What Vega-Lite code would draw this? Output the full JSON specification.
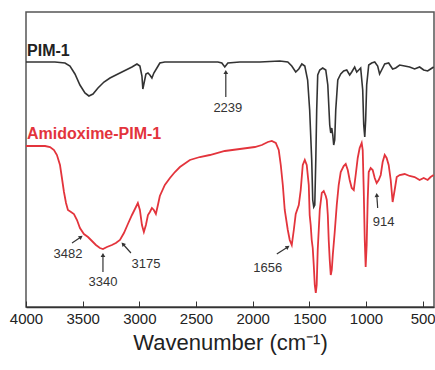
{
  "$schema": "https://vega.github.io/schema/vega-lite/v6.json",
  "width": 408,
  "height": 295,
  "autosize": {"type": "none"},
  "padding": {"left": 26, "top": 12, "right": 1, "bottom": 63},
  "background": "white",
  "config": {
    "view": {"stroke": "#555555", "strokeWidth": 1.5},
    "font": "Liberation Sans"
  },
  "datasets": {
    "pim": [
      {"w":4000,"v":245},{"w":3877,"v":245},{"w":3745,"v":245},{"w":3656,"v":244},{"w":3612,"v":241},{"w":3568,"v":233},{"w":3524,"v":222},{"w":3480,"v":214},{"w":3445,"v":211},{"w":3409,"v":213},{"w":3365,"v":219},{"w":3312,"v":225},{"w":3259,"v":229},{"w":3189,"v":233},{"w":3118,"v":237},{"w":3065,"v":240},{"w":3021,"v":243},{"w":2995,"v":241},{"w":2977,"v":231},{"w":2969,"v":218},{"w":2960,"v":223},{"w":2942,"v":233},{"w":2924,"v":234},{"w":2907,"v":232},{"w":2889,"v":229},{"w":2872,"v":234},{"w":2845,"v":239},{"w":2819,"v":244},{"w":2775,"v":245},{"w":2642,"v":245},{"w":2466,"v":245},{"w":2307,"v":245},{"w":2272,"v":244},{"w":2246,"v":240},{"w":2219,"v":244},{"w":2113,"v":245},{"w":1937,"v":245},{"w":1760,"v":246},{"w":1690,"v":245},{"w":1655,"v":241},{"w":1620,"v":235},{"w":1593,"v":238},{"w":1566,"v":243},{"w":1540,"v":241},{"w":1515,"v":227},{"w":1497,"v":197},{"w":1479,"v":147},{"w":1470,"v":107},{"w":1461,"v":100},{"w":1452,"v":102},{"w":1443,"v":147},{"w":1435,"v":197},{"w":1426,"v":232},{"w":1408,"v":237},{"w":1382,"v":239},{"w":1355,"v":237},{"w":1337,"v":222},{"w":1320,"v":182},{"w":1311,"v":174},{"w":1302,"v":179},{"w":1293,"v":172},{"w":1285,"v":162},{"w":1276,"v":167},{"w":1267,"v":197},{"w":1249,"v":227},{"w":1223,"v":233},{"w":1197,"v":236},{"w":1170,"v":237},{"w":1144,"v":232},{"w":1126,"v":235},{"w":1100,"v":240},{"w":1082,"v":235},{"w":1064,"v":237},{"w":1047,"v":239},{"w":1029,"v":217},{"w":1020,"v":182},{"w":1011,"v":170},{"w":1003,"v":187},{"w":994,"v":222},{"w":976,"v":242},{"w":950,"v":244},{"w":923,"v":245},{"w":897,"v":241},{"w":880,"v":233},{"w":862,"v":237},{"w":835,"v":243},{"w":800,"v":244},{"w":765,"v":238},{"w":738,"v":239},{"w":703,"v":242},{"w":659,"v":241},{"w":615,"v":240},{"w":571,"v":238},{"w":527,"v":240},{"w":491,"v":237},{"w":456,"v":236},{"w":430,"v":238},{"w":403,"v":240}
    ],
    "amid": [
      {"w":4000,"v":161},{"w":3921,"v":161},{"w":3832,"v":161},{"w":3788,"v":160},{"w":3753,"v":157},{"w":3727,"v":152},{"w":3700,"v":142},{"w":3683,"v":129},{"w":3665,"v":115},{"w":3647,"v":104},{"w":3630,"v":97},{"w":3603,"v":95},{"w":3577,"v":93},{"w":3550,"v":87},{"w":3524,"v":79},{"w":3489,"v":73},{"w":3453,"v":70},{"w":3418,"v":66},{"w":3383,"v":62},{"w":3348,"v":59},{"w":3321,"v":58},{"w":3286,"v":60},{"w":3242,"v":62},{"w":3207,"v":64},{"w":3171,"v":67},{"w":3136,"v":74},{"w":3101,"v":83},{"w":3065,"v":92},{"w":3030,"v":100},{"w":3013,"v":104},{"w":2995,"v":97},{"w":2977,"v":82},{"w":2960,"v":75},{"w":2942,"v":82},{"w":2924,"v":92},{"w":2907,"v":95},{"w":2889,"v":99},{"w":2872,"v":97},{"w":2854,"v":93},{"w":2836,"v":102},{"w":2819,"v":111},{"w":2775,"v":122},{"w":2730,"v":129},{"w":2686,"v":135},{"w":2642,"v":140},{"w":2554,"v":147},{"w":2466,"v":150},{"w":2378,"v":152},{"w":2246,"v":156},{"w":2113,"v":158},{"w":1981,"v":160},{"w":1919,"v":162},{"w":1866,"v":165},{"w":1831,"v":166},{"w":1796,"v":164},{"w":1770,"v":157},{"w":1752,"v":142},{"w":1734,"v":122},{"w":1717,"v":97},{"w":1690,"v":77},{"w":1673,"v":67},{"w":1655,"v":62},{"w":1637,"v":77},{"w":1620,"v":93},{"w":1593,"v":102},{"w":1576,"v":117},{"w":1558,"v":142},{"w":1540,"v":147},{"w":1523,"v":142},{"w":1505,"v":122},{"w":1497,"v":92},{"w":1488,"v":82},{"w":1479,"v":67},{"w":1470,"v":59},{"w":1461,"v":42},{"w":1452,"v":22},{"w":1443,"v":14},{"w":1435,"v":22},{"w":1426,"v":57},{"w":1408,"v":97},{"w":1390,"v":114},{"w":1373,"v":116},{"w":1355,"v":111},{"w":1346,"v":107},{"w":1337,"v":92},{"w":1329,"v":67},{"w":1320,"v":47},{"w":1311,"v":32},{"w":1302,"v":37},{"w":1293,"v":52},{"w":1276,"v":75},{"w":1258,"v":102},{"w":1241,"v":122},{"w":1223,"v":135},{"w":1197,"v":141},{"w":1179,"v":143},{"w":1161,"v":137},{"w":1144,"v":127},{"w":1126,"v":119},{"w":1108,"v":117},{"w":1091,"v":132},{"w":1073,"v":149},{"w":1056,"v":159},{"w":1038,"v":164},{"w":1029,"v":157},{"w":1020,"v":117},{"w":1011,"v":67},{"w":1003,"v":40},{"w":994,"v":62},{"w":985,"v":107},{"w":976,"v":135},{"w":959,"v":139},{"w":941,"v":137},{"w":923,"v":129},{"w":906,"v":124},{"w":888,"v":127},{"w":870,"v":132},{"w":853,"v":145},{"w":835,"v":152},{"w":818,"v":149},{"w":800,"v":142},{"w":782,"v":127},{"w":765,"v":105},{"w":747,"v":117},{"w":729,"v":130},{"w":703,"v":132},{"w":659,"v":133},{"w":615,"v":131},{"w":571,"v":130},{"w":527,"v":127},{"w":491,"v":129},{"w":456,"v":127},{"w":430,"v":130},{"w":403,"v":132}
    ],
    "names": [
      {"name":"PIM-1","w":3991,"v":256,"c":"PIM-1"},
      {"name":"Amidoxime-PIM-1","w":3991,"v":173,"c":"Amidoxime-PIM-1"}
    ],
    "peaks": [
      {"label":"2239","w":2219,"v":199},
      {"label":"3482","w":3630,"v":53},
      {"label":"3340","w":3321,"v":25},
      {"label":"3175","w":2942,"v":43},
      {"label":"1656","w":1867,"v":39},
      {"label":"914","w":844,"v":85}
    ],
    "arrows": [
      {"peak":"2239","w":2237,"v":210,"w2":2237,"v2":235,"angle":0},
      {"peak":"3482","w":3594,"v":64,"w2":3515,"v2":70,"angle":55},
      {"peak":"3340","w":3321,"v":35,"w2":3321,"v2":52,"angle":0},
      {"peak":"3175","w":3074,"v":54,"w2":3145,"v2":63,"angle":318},
      {"peak":"1656","w":1787,"v":53,"w2":1690,"v2":60,"angle":56},
      {"peak":"914","w":897,"v":99,"w2":905,"v2":112,"angle":356}
    ]
  },
  "layer": [
    {
      "data": {"name": "amid"},
      "mark": {"type": "line", "color": "#e3343c", "strokeWidth": 1.8, "interpolate": "linear"},
      "encoding": {
        "x": {"field": "w", "type": "quantitative", "scale": {"domain": [4000, 400], "nice": false, "zero": false},
          "axis": {
            "values": [4000,3750,3500,3250,3000,2750,2500,2250,2000,1750,1500,1250,1000,750,500],
            "labelExpr": "datum.value % 500 === 0 ? datum.label : ''",
            "format": "d",
            "grid": false,
            "domainColor": "#333333",
            "domainWidth": 1.5,
            "tickColor": "#333333",
            "tickWidth": 1,
            "tickSize": {"condition": {"test": "datum.value % 500 === 0", "value": -6}, "value": -3},
            "labelPadding": 10,
            "labelFont": "Liberation Sans",
            "labelFontSize": 15,
            "labelColor": "#222222",
            "labelFlush": false,
            "title": "Wavenumber (cm⁻¹)",
            "titleFont": "Liberation Sans",
            "titleFontSize": 22,
            "titleFontWeight": "normal",
            "titleColor": "#222222",
            "titlePadding": 6
          }
        },
        "y": {"field": "v", "type": "quantitative", "scale": {"domain": [0, 295], "nice": false}, "axis": null}
      }
    },
    {
      "data": {"name": "pim"},
      "mark": {"type": "line", "color": "#333333", "strokeWidth": 1.6},
      "encoding": {
        "x": {"field": "w", "type": "quantitative"},
        "y": {"field": "v", "type": "quantitative"}
      }
    },
    {
      "data": {"name": "names"},
      "mark": {"type": "text", "align": "left", "baseline": "middle", "fontWeight": "bold", "fontSize": 16, "font": "Liberation Sans"},
      "encoding": {
        "x": {"field": "w", "type": "quantitative"},
        "y": {"field": "v", "type": "quantitative"},
        "text": {"field": "name"},
        "color": {"field": "c", "type": "nominal", "scale": {"domain": ["PIM-1", "Amidoxime-PIM-1"], "range": ["#222222", "#e3343c"]}, "legend": null}
      }
    },
    {
      "data": {"name": "peaks"},
      "mark": {"type": "text", "align": "center", "baseline": "middle", "fontSize": 13, "font": "Liberation Sans", "color": "#333333"},
      "encoding": {
        "x": {"field": "w", "type": "quantitative"},
        "y": {"field": "v", "type": "quantitative"},
        "text": {"field": "label"}
      }
    },
    {
      "data": {"name": "arrows"},
      "mark": {"type": "rule", "color": "#333333", "strokeWidth": 1.2},
      "encoding": {
        "x": {"field": "w", "type": "quantitative"},
        "y": {"field": "v", "type": "quantitative"},
        "x2": {"field": "w2"},
        "y2": {"field": "v2"}
      }
    },
    {
      "data": {"name": "arrows"},
      "mark": {"type": "point", "shape": "triangle-up", "filled": true, "color": "#333333", "size": 22, "opacity": 1},
      "encoding": {
        "x": {"field": "w2", "type": "quantitative"},
        "y": {"field": "v2", "type": "quantitative"},
        "angle": {"field": "angle", "type": "quantitative", "scale": null}
      }
    }
  ]
}
